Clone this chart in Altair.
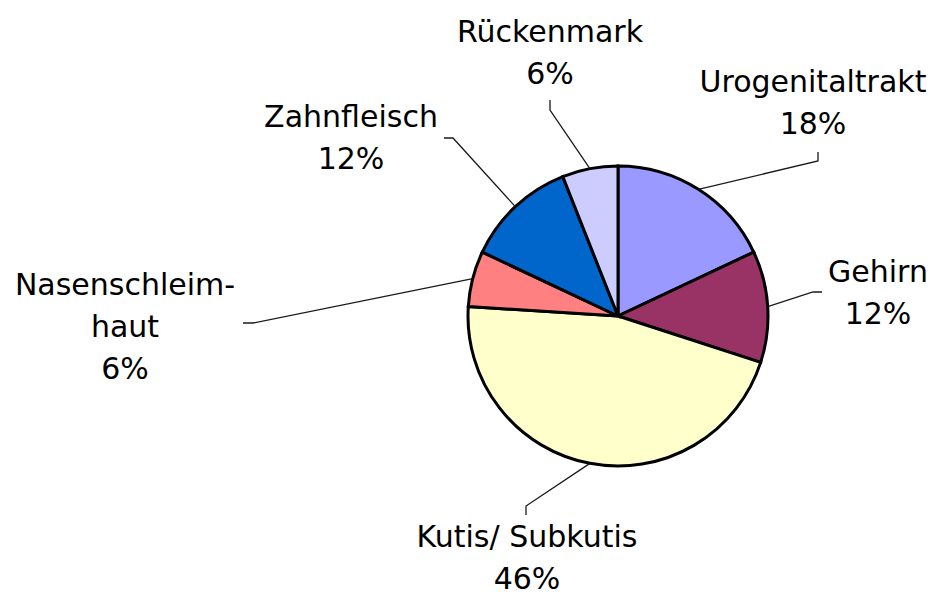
import altair as alt
import pandas as pd
import numpy as np

# ---- data -------------------------------------------------------------
categories = ["Urogenitaltrakt", "Gehirn", "Kutis/ Subkutis",
              "Nasenschleimhaut", "Zahnfleisch", "Rückenmark"]
label_names = ["Urogenitaltrakt", "Gehirn", "Kutis/ Subkutis",
               "Nasenschleim-\nhaut", "Zahnfleisch", "Rückenmark"]
percent = [18, 12, 46, 6, 12, 6]
colors = ["#9999FF", "#993366", "#FFFFCC", "#FF8080", "#0066CC", "#CCCCFF"]

# ---- label layout (pixels relative to the pie centre, y downwards) -----
# position of the first text line of each label
label_dx = [195, 260, -91, -493, -267, -68]
label_dy = [-233, -43, 222, -30, -198, -283]
elbow_dx = [200, 195, -92, -365, -165, -68]
elbow_dy = [-155, -24, 190, 7, -178, -206]
end_dx = [200, 204, -92, -375, -174, -68]
end_dy = [-164, -24, 199, 7, -178, -216]

# ---- geometry / style --------------------------------------------------
W, H = 920, 587
CX, CY = 610, 308      # pie centre inside the plot area
R = 150                # pie radius

xs = alt.Scale(domain=[-CX, W - CX], range=[0, W], nice=False, zero=False)
ys = alt.Scale(domain=[-CY, H - CY], range=[0, H], nice=False, zero=False)

pie_df = pd.DataFrame({"idx": range(len(categories)),
                       "category": categories,
                       "percent": percent})

cum = np.cumsum(percent) - np.array(percent) / 2.0
mid = cum / float(sum(percent)) * 2 * np.pi
anchor_x = R * np.sin(mid)
anchor_y = -R * np.cos(mid)

rows = []
for i, c in enumerate(categories):
    rows.append({"category": c, "pt": 0, "x": anchor_x[i], "y": anchor_y[i]})
    rows.append({"category": c, "pt": 1, "x": elbow_dx[i], "y": elbow_dy[i]})
    rows.append({"category": c, "pt": 2, "x": end_dx[i], "y": end_dy[i]})
line_df = pd.DataFrame(rows)

label_df = pd.DataFrame({
    "category": categories,
    "label": [f"{n}\n{p}%" for n, p in zip(label_names, percent)],
    "x": label_dx,
    "y": label_dy,
})

pie = alt.Chart(pie_df).mark_arc(
    outerRadius=R, stroke="black", strokeWidth=3
).encode(
    theta=alt.Theta("percent:Q", stack=True),
    order=alt.Order("idx:Q"),
    color=alt.Color("category:N", scale=alt.Scale(domain=categories, range=colors), legend=None),
    x=alt.X(datum=0, scale=xs, axis=None),
    y=alt.Y(datum=0, scale=ys, axis=None),
)

leaders = alt.Chart(line_df).mark_line(
    color="#1a1a1a", strokeWidth=1.3
).encode(
    x=alt.X("x:Q", scale=xs, axis=None),
    y=alt.Y("y:Q", scale=ys, axis=None),
    detail="category:N",
    order="pt:Q",
)

labels = alt.Chart(label_df).mark_text(
    font="DejaVu Sans", fontSize=30, lineHeight=42, lineBreak="\n",
    align="center", baseline="middle", color="black"
).encode(
    x=alt.X("x:Q", scale=xs, axis=None),
    y=alt.Y("y:Q", scale=ys, axis=None),
    text="label:N",
)

chart = alt.layer(pie, leaders, labels).properties(
    width=W, height=H, padding=0, autosize="none"
).configure_view(stroke=None)

chart.save("out.html", embed_options={"renderer": "svg", "actions": False})
